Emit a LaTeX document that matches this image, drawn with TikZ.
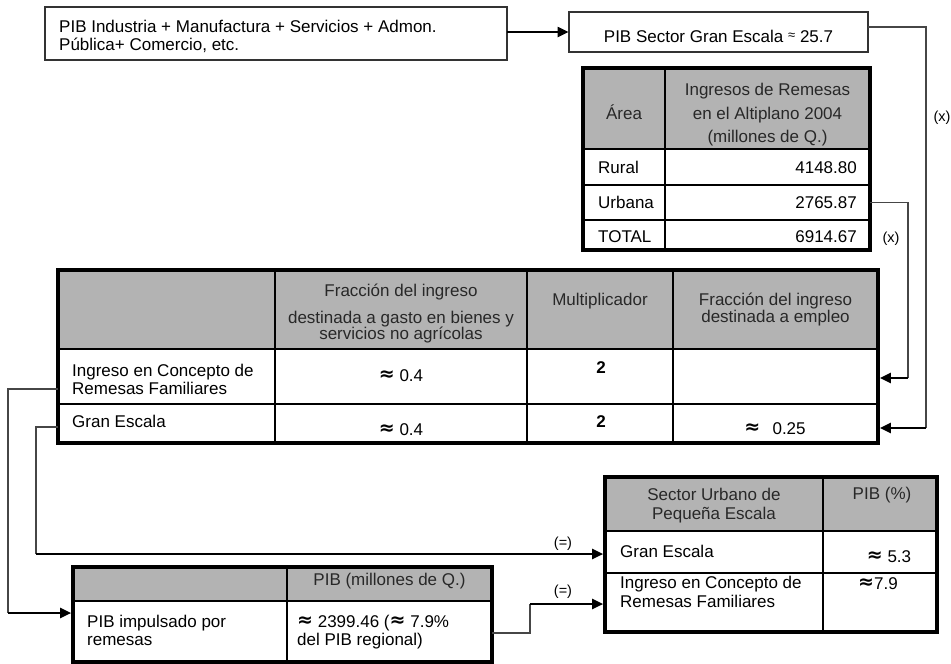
\documentclass[tikz,border=0pt]{standalone}
\usepackage{fontspec}
\setmainfont{Liberation Sans}
\newfontfamily\symf{DejaVu Sans Bold}
\usetikzlibrary{arrows.meta}
\definecolor{hdr}{RGB}{179,179,179}
\definecolor{htxt}{RGB}{40,40,40}
\definecolor{lnk}{RGB}{70,70,70}
\newcommand\apx{{\symf\fontsize{19}{19}\selectfont\raisebox{1pt}{≈}}}
\newcommand\cellbox[6]{\node[cellst,fill=#6,minimum width={(#4)-(#2)},minimum height={(#5)-(#3)}] (#1) at ({((#2)+(#4))/2},{((#3)+(#5))/2}) {};}
\newcommand\plainrect[5]{\node[plainbox,minimum width={(#4)-(#2)},minimum height={(#5)-(#3)}] (#1) at ({((#2)+(#4))/2},{((#3)+(#5))/2}) {};}
\tikzset{
  cellst/.style={draw=black, line width=1.6pt, inner sep=0pt, outer sep=0pt},
  plainbox/.style={draw=black!80, line width=1.1pt, inner sep=0pt, outer sep=0pt, fill=white},
  frame/.style={draw=black, line width=3.8pt},
  tx/.style={font=\fontsize{17}{18}\selectfont, inner sep=0pt, anchor=base},
  txl/.style={tx, anchor=base west},
  txr/.style={tx, anchor=base east},
  hd/.style={text=htxt},
  lab/.style={font=\fontsize{14.5}{14.5}\selectfont, inner sep=0pt},
  link/.style={draw=lnk, line width=1.3pt},
  arr/.style={draw=black, line width=2.4pt, -{Triangle[length=11pt,width=10pt]}, shorten >=1.8pt},
}
\begin{document}
\begin{tikzpicture}[x=1pt,y=-1pt]
\path[use as bounding box] (0,0) rectangle (951,664);

% top boxes
\plainrect{tA}{45}{7}{507}{60}
\plainrect{tB}{569}{12}{868}{52}
\node[txl] at (59,32) {PIB Industria + Manufactura + Servicios + Admon.};
\node[txl] at (59,50) {Pública+ Comercio, etc.};
\node[tx] at (718.5,42) {PIB Sector Gran Escala {\fontsize{13}{13}\selectfont\raisebox{3pt}{≈}} 25.7};

% Remesas table
\cellbox{R00}{583}{68}{665}{149}{hdr}
\cellbox{R01}{665}{68}{870}{149}{hdr}
\cellbox{R10}{583}{149}{665}{185}{white}
\cellbox{R11}{665}{149}{870}{185}{white}
\cellbox{R20}{583}{185}{665}{220}{white}
\cellbox{R21}{665}{185}{870}{220}{white}
\cellbox{R30}{583}{220}{665}{250}{white}
\cellbox{R31}{665}{220}{870}{250}{white}
\draw[frame] (583,68) rectangle (870,250);
\node[tx,hd] at (624,119) {Área};
\node[tx,hd] at (767.5,95) {Ingresos de Remesas};
\node[tx,hd] at (767.5,119) {en el Altiplano 2004};
\node[tx,hd] at (767.5,142) {(millones de Q.)};
\node[txl] at (598,173) {Rural};
\node[txr] at (857,173) {4148.80};
\node[txl] at (598,208) {Urbana};
\node[txr] at (857,208) {2765.87};
\node[txl] at (598,242) {TOTAL};
\node[txr] at (857,242) {6914.67};

% Big table
\cellbox{B00}{58}{270}{275}{349}{hdr}
\cellbox{B01}{275}{270}{527}{349}{hdr}
\cellbox{B02}{527}{270}{673}{349}{hdr}
\cellbox{B03}{673}{270}{878}{349}{hdr}
\cellbox{B10}{58}{349}{275}{404}{white}
\cellbox{B11}{275}{349}{527}{404}{white}
\cellbox{B12}{527}{349}{673}{404}{white}
\cellbox{B13}{673}{349}{878}{404}{white}
\cellbox{B20}{58}{404}{275}{443}{white}
\cellbox{B21}{275}{404}{527}{443}{white}
\cellbox{B22}{527}{404}{673}{443}{white}
\cellbox{B23}{673}{404}{878}{443}{white}
\draw[frame] (58,270) rectangle (878,443);
\node[tx,hd] at (401,296) {Fracción del ingreso};
\node[tx,hd] at (401,323) {destinada a gasto en bienes y};
\node[tx,hd] at (401,339) {servicios no agrícolas};
\node[tx,hd] at (600,305) {Multiplicador};
\node[tx,hd] at (775.5,305) {Fracción del ingreso};
\node[tx,hd] at (775.5,322) {destinada a empleo};
\node[txl] at (72,376) {Ingreso en Concepto de};
\node[txl] at (72,394) {Remesas Familiares};
\node[tx] at (401,381) {\apx\ 0.4};
\node[tx] at (601,373) {\bfseries 2};
\node[txl] at (72,427) {Gran Escala};
\node[tx] at (401,435) {\apx\ 0.4};
\node[tx] at (601,427) {\bfseries 2};
\node[tx] at (775,434) {\apx\ \, 0.25};

% bottom-left table
\cellbox{L00}{73}{567}{287}{601}{hdr}
\cellbox{L01}{287}{567}{492}{601}{hdr}
\cellbox{L10}{73}{601}{287}{662}{white}
\cellbox{L11}{287}{601}{492}{662}{white}
\draw[frame] (73,567) rectangle (492,662);
\node[tx,hd] at (389.5,585) {PIB (millones de Q.)};
\node[txl] at (87,627) {PIB impulsado por};
\node[txl] at (87,645) {remesas};
\node[txl] at (297,627) {\apx\ 2399.46 (\apx\ 7.9\%};
\node[txl] at (297,645) {del PIB regional)};

% Sector urbano table
\cellbox{S00}{605}{477}{823}{531}{hdr}
\cellbox{S01}{823}{477}{937}{531}{hdr}
\cellbox{S10}{605}{531}{823}{573}{white}
\cellbox{S11}{823}{531}{937}{573}{white}
\cellbox{S20}{605}{573}{823}{632}{white}
\cellbox{S21}{823}{573}{937}{632}{white}
\draw[frame] (605,477) rectangle (937,632);
\node[tx,hd] at (714,500) {Sector Urbano de};
\node[tx,hd] at (714,519) {Pequeña Escala};
\node[tx,hd] at (882,499) {PIB (\%)};
\node[txl] at (620,557) {Gran Escala};
\node[tx] at (889,562) {\apx\ 5.3};
\node[txl] at (620,588) {Ingreso en Concepto de};
\node[txl] at (620,607) {Remesas Familiares};
\node[tx] at (878,589) {\apx7.9};

% connectors
\draw[arr,shorten >=0.5pt] (tA.east |- tB.west) -- (tB.west);

\coordinate (k1) at (926,27);
\coordinate (k2) at (926,428);
\draw[link] (tB.east |- k1) -- (k1) -- (k2);
\draw[arr] (k2) -- (k2 -| B23.east);
\node[lab] at (942,118) {(x)};

\coordinate (k4) at (908,378);
\draw[link] (R21.east) -| (k4);
\draw[arr] (k4) -- (k4 -| B13.east);
\node[lab] at (891,239) {(x)};

\coordinate (k5) at (8,389);
\coordinate (k6) at (8,613);
\draw[link] (k5 -| B10.west) -- (k5) -- (k6);
\draw[arr] (k6) -- (k6 -| L10.west);

\coordinate (k7) at (36,427);
\coordinate (k8) at (36,554);
\draw[link] (k7 -| B20.west) -- (k7) -- (k8);
\draw[arr] (k8) -- (k8 -| S10.west);
\node[lab] at (563,544) {(=)};

\coordinate (k9) at (530,633);
\coordinate (k10) at (530,604);
\draw[link] (k9 -| L11.east) -- (k9) -- (k10);
\draw[arr] (k10) -- (k10 -| S20.west);
\node[lab] at (563,592) {(=)};
\end{tikzpicture}
\end{document}
